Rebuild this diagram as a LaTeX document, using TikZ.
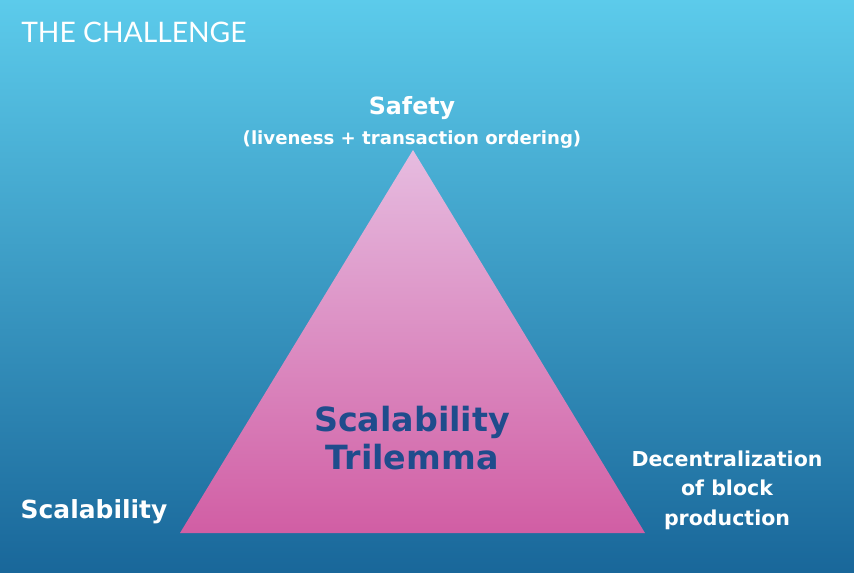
\documentclass[tikz,border=0pt]{standalone}
\usepackage{fontspec}
\setmainfont{DejaVu Sans}
\newfontfamily\titlefont{Lato}
\definecolor{bgtop}{HTML}{5CCBEB}
\definecolor{bgbot}{HTML}{19679A}
\definecolor{tritop}{HTML}{E6BCE0}
\definecolor{tribot}{HTML}{D15EA4}
\definecolor{trilemma}{HTML}{1F4C8C}
\tikzset{
  corner/.style={text=white,font=\bfseries,align=center,inner sep=0pt},
}
\begin{document}
\begin{tikzpicture}[x=0.75pt,y=-0.75pt]
\shade[top color=bgtop,bottom color=bgbot] (0,0) rectangle (854,572);
\useasboundingbox (0,0) rectangle (854,572);
\coordinate (apex) at (413,150);
\coordinate (left) at (180,533);
\coordinate (right) at (645,533);
\shade[top color=tritop,bottom color=tribot] (apex) -- (left) -- (right) -- cycle;
\node[anchor=west,text=white,font=\titlefont\fontsize{21.2}{25}\selectfont,inner sep=0pt] (title) at (21,32) {THE CHALLENGE};
\node[corner,font=\bfseries\fontsize{17.8}{21}\selectfont] (safety) at (412,108) {Safety};
\node[corner,font=\bfseries\fontsize{13.6}{16}\selectfont] (order) at (412,140) {(liveness + transaction ordering)};
\node[align=center,text=trilemma,font=\bfseries\fontsize{25}{28}\selectfont,inner sep=0pt] (center) at (412,438) {Scalability\\Trilemma};
\node[corner,font=\bfseries\fontsize{18.7}{22}\selectfont] (scal) at (94,512) {Scalability};
\node[corner,font=\bfseries\fontsize{15.4}{22}\selectfont] (decent) at (727,490) {Decentralization\\of block\\production};
\end{tikzpicture}
\end{document}
